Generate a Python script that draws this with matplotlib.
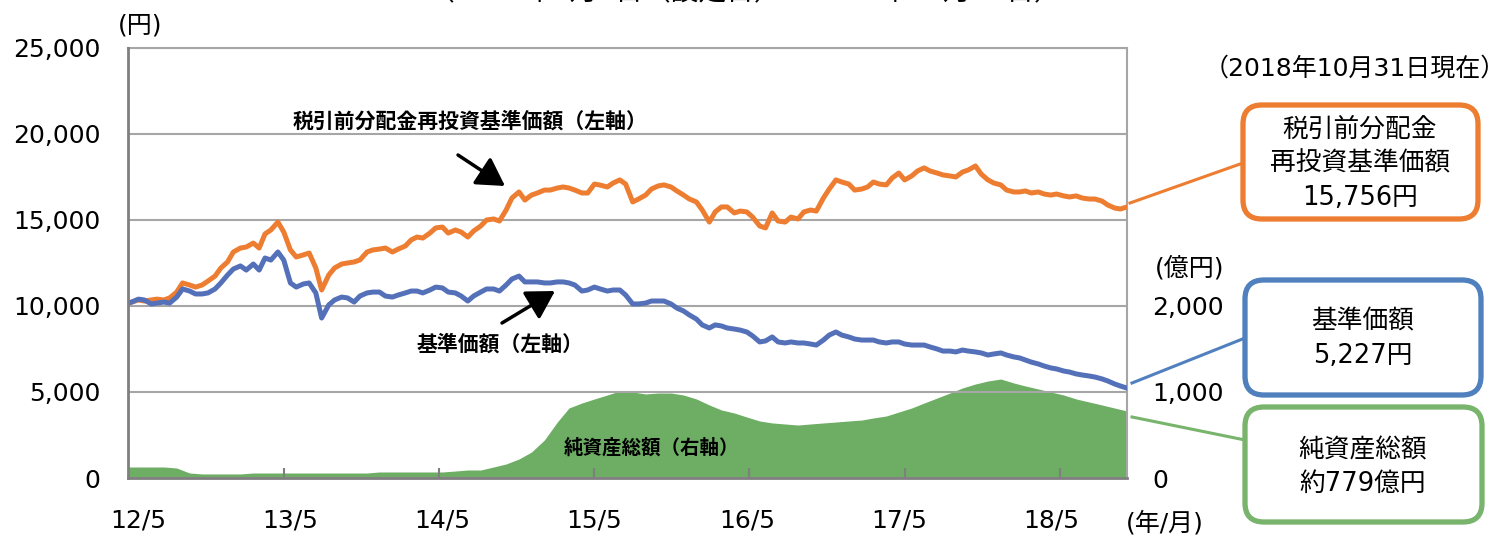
import matplotlib
matplotlib.use("Agg")
import matplotlib.pyplot as plt
import matplotlib.dates as mdates
from matplotlib.patches import FancyBboxPatch, FancyArrowPatch
from matplotlib.lines import Line2D
from matplotlib.ticker import FixedLocator, FuncFormatter, FixedFormatter
import pandas as pd

plt.rcParams['font.family'] = ['DejaVu Sans', 'Noto Sans CJK JP']

# ---------------- data ----------------
# semi-monthly observation dates (setup date, 1st/15th of each month, last date)
dates = ([pd.Timestamp('2012-04-06')]
         + list(pd.date_range('2012-04-15', '2018-10-15', freq='SMS'))
         + [pd.Timestamp('2018-10-31')])

# 税引前分配金再投資基準価額 (円)
nav_reinvested = [10170,
    10230, 10350, 10290, 10350, 10400, 10350, 10470, 10810, 11340, 11220,
    11100, 11220, 11450, 11740, 12210, 12560, 13140, 13370, 13430, 13660,
    13370, 14190, 14420, 14880, 14300, 13260, 12850, 12970, 13080, 12210,
    10930, 11800, 12210, 12440, 12500, 12560, 12680, 13140, 13260, 13310,
    13370, 13140, 13310, 13490, 13840, 14010, 13950, 14240, 14540, 14590,
    14240, 14420, 14300, 14010, 14360, 14650, 15000, 15060, 14940, 15580,
    16280, 16630, 16160, 16450, 16570, 16740, 16740, 16860, 16920, 16860,
    16740, 16570, 16570, 17090, 17030, 16920, 17150, 17330, 17090, 16050,
    16220, 16450, 16800, 16980, 17040, 16920, 16690, 16450, 16220, 16050,
    15580, 14880, 15470, 15760, 15760, 15410, 15520, 15470, 15170, 14650,
    14540, 15410, 14940, 14880, 15170, 15060, 15470, 15580, 15520, 16280,
    16800, 17330, 17210, 17090, 16740, 16800, 16920, 17210, 17090, 17040,
    17440, 17730, 17330, 17560, 17850, 18030, 17850, 17730, 17620, 17560,
    17500, 17790, 17910, 18140, 17670, 17330, 17150, 17040, 16740, 16630,
    16630, 16690, 16570, 16630, 16510, 16450, 16510, 16400, 16340, 16400,
    16280, 16220, 16220, 16100, 15870, 15700, 15640,
    15756]

# 基準価額 (円)
nav = [10170,
    10230, 10400, 10350, 10120, 10170, 10230, 10170, 10520, 10990, 10870,
    10700, 10700, 10760, 10990, 11340, 11800, 12150, 12330, 12090, 12440,
    12090, 12790, 12670, 13140, 12670, 11340, 11100, 11280, 11340, 10760,
    9300, 10060, 10350, 10520, 10470, 10230, 10580, 10760, 10810, 10810,
    10580, 10520, 10640, 10760, 10870, 10870, 10760, 10930, 11100, 11050,
    10810, 10760, 10580, 10290, 10580, 10810, 10990, 10990, 10870, 11220,
    11570, 11740, 11400, 11400, 11400, 11340, 11340, 11400, 11400, 11340,
    11220, 10870, 10930, 11100, 10990, 10870, 10930, 10930, 10640, 10120,
    10120, 10170, 10290, 10290, 10290, 10120, 9880, 9710, 9480, 9240,
    8900, 8720, 8900, 8840, 8720, 8660, 8600, 8490, 8260, 7910,
    7970, 8200, 7910, 7850, 7910, 7850, 7850, 7790, 7730, 8020,
    8310, 8490, 8310, 8200, 8080, 8020, 8020, 8020, 7910, 7850,
    7910, 7910, 7790, 7730, 7730, 7730, 7620, 7500, 7380, 7380,
    7330, 7440, 7380, 7330, 7270, 7150, 7210, 7270, 7150, 7040,
    6980, 6860, 6740, 6630, 6510, 6400, 6340, 6220, 6160, 6050,
    5990, 5930, 5870, 5760, 5640, 5470, 5350,
    5227]

# monthly dates for net assets
dates_aum = ([pd.Timestamp('2012-04-06')]
             + list(pd.date_range('2012-05-01', '2018-10-01', freq='MS'))
             + [pd.Timestamp('2018-10-31')])

# 純資産総額 (億円)
aum = [128,
    128, 128, 128, 116, 58, 47, 47, 47,
    47, 58, 58, 58, 58, 58, 58, 58, 58, 58, 58, 70,
    70, 70, 70, 70, 70, 81, 93, 93, 128, 163, 221, 302,
    442, 651, 814, 872, 919, 965, 1012, 1000, 977, 988, 988, 965,
    919, 849, 791, 756, 709, 663, 640, 628, 616, 628, 640, 651,
    663, 674, 698, 721, 767, 814, 872, 930, 988, 1047, 1093, 1128,
    1151, 1105, 1070, 1035, 1000, 965, 919, 884, 849, 814,
    779]

x_label_dates = ['2012-05-01', '2013-05-01', '2014-05-01', '2015-05-01',
                 '2016-05-01', '2017-05-01', '2018-05-01']
x_labels = ['12/5', '13/5', '14/5', '15/5', '16/5', '17/5', '18/5']
x_tick_dates = ['2013-04-16', '2014-04-23', '2015-04-30', '2016-05-07',
                '2017-05-15', '2018-05-23']
left_ticks = [0, 5000, 10000, 15000, 20000, 25000]
right_ticks = [0, 1000, 2000, 3000, 4000, 5000]
right_tick_labels = ['0', '1,000', '2,000', '', '', '']

# ---------------- styling ----------------
ORANGE = '#ED7D31'
BLUE = '#5470B8'
GREEN = '#6DAD64'
BOX_BLUE = '#5080BD'
BOX_GREEN = '#78B46C'
GRID = '#A6A6A6'
SPINE = '#7F7F7F'

W, H = 1504, 538
fig = plt.figure(figsize=(W / 100, H / 100), dpi=100)


def fx(x):
    return x / W


def fy(y):
    return 1 - y / H


ax = fig.add_axes([fx(128), fy(478), (1127 - 128) / W, (478 - 48) / H])
ax_r = ax.twinx()
ax.set_zorder(2)
ax_r.set_zorder(1)
ax.patch.set_visible(False)

# right axis: area + grid
ax_r.fill_between(dates_aum, aum, 0, color=GREEN, lw=0)
ax_r.set_ylim(0, 5000)
ax_r.yaxis.set_major_locator(FixedLocator(right_ticks))
ax_r.yaxis.set_major_formatter(FixedFormatter(right_tick_labels))
ax_r.grid(axis='y', color=GRID, lw=1.5)
ax_r.tick_params(axis='y', length=0, pad=18, labelsize=18)
for s in ['left', 'bottom']:
    ax_r.spines[s].set_visible(False)
for s in ['right', 'top']:
    ax_r.spines[s].set_color(GRID)
    ax_r.spines[s].set_linewidth(1.5)

# left axis: lines
ax.plot(dates, nav_reinvested, color=ORANGE, lw=3.6, solid_joinstyle='round')
ax.plot(dates, nav, color=BLUE, lw=3.6, solid_joinstyle='round')
ax.set_ylim(0, 25000)
ax.set_xlim(pd.Timestamp('2012-04-06'), pd.Timestamp('2018-10-31'))
ax.yaxis.set_major_locator(FixedLocator(left_ticks))
ax.yaxis.set_major_formatter(FuncFormatter(lambda v, p: f'{int(v):,}'))
ax.tick_params(axis='y', length=0, pad=20, labelsize=18)
ax.xaxis.set_major_locator(FixedLocator(mdates.date2num(pd.to_datetime(x_label_dates))))
ax.xaxis.set_major_formatter(FixedFormatter(x_labels))
ax.xaxis.set_minor_locator(FixedLocator(mdates.date2num(pd.to_datetime(x_tick_dates))))
ax.tick_params(axis='x', which='major', length=0, pad=22, labelsize=18)
ax.tick_params(axis='x', which='minor', direction='in', length=7, width=1.5, color=SPINE)
for s in ['top', 'right']:
    ax.spines[s].set_visible(False)
for s in ['left', 'bottom']:
    ax.spines[s].set_color(SPINE)
    ax.spines[s].set_linewidth(2)

# ---------------- texts ----------------
fig.text(fx(745), fy(0.5), '（2012年4月6日（設定日）～2018年10月31日）', fontsize=20,
         ha='center', va='baseline')
fig.text(fx(140), fy(25), '(円)', fontsize=18, ha='center', va='center')
fig.text(fx(1190), fy(268), '(億円)', fontsize=18, ha='center', va='center')
fig.text(fx(1165), fy(523), '(年/月)', fontsize=18, ha='center', va='center')
fig.text(fx(1355), fy(69), '（2018年10月31日現在）', fontsize=18, ha='center', va='center')

fig.text(fx(470), fy(121), '税引前分配金再投資基準価額（左軸）', fontsize=15,
         fontweight='bold', ha='center', va='center', zorder=10)
fig.text(fx(500), fy(344), '基準価額（左軸）', fontsize=15,
         fontweight='bold', ha='center', va='center', zorder=10)
fig.text(fx(651), fy(448), '純資産総額（右軸）', fontsize=14,
         fontweight='bold', ha='center', va='center', zorder=10)

for (x0, y0), (x1, y1) in [((458, 155), (505, 186)), ((502, 323), (555, 291))]:
    fig.add_artist(FancyArrowPatch((fx(x0), fy(y0)), (fx(x1), fy(y1)),
                                   transform=fig.transFigure,
                                   arrowstyle='-|>,head_length=0.6,head_width=0.35',
                                   mutation_scale=28, lw=2.5, color='black',
                                   shrinkA=0, shrinkB=0, zorder=10))

# callout boxes (pixel box coordinates -> inches)
boxes = [
    ((1243, 105, 1478, 219), ORANGE, '税引前分配金\n再投資基準価額\n15,756円', (1360, 164),
     ((1130, 203), (1243, 163))),
    ((1245, 280, 1481, 395), BOX_BLUE, '基準価額\n5,227円', (1363, 339),
     ((1132, 383), (1245, 338))),
    ((1245, 407, 1482, 522), BOX_GREEN, '純資産総額\n約779億円', (1363, 467),
     ((1132, 417), (1245, 440))),
]
for (x0, y0, x1, y1), col, txt, (tx, ty), ((lx0, ly0), (lx1, ly1)) in boxes:
    fig.add_artist(Line2D([fx(lx0), fx(lx1)], [fy(ly0), fy(ly1)],
                          transform=fig.transFigure, color=col, lw=2.2, zorder=10))
    patch = FancyBboxPatch((x0 / 100, (H - y1) / 100), (x1 - x0) / 100, (y1 - y0) / 100,
                           boxstyle='round,pad=0,rounding_size=0.19',
                           transform=fig.dpi_scale_trans, fc='white', ec=col, lw=3.8,
                           zorder=10)
    fig.add_artist(patch)
    fig.text(fx(tx), fy(ty), txt, fontsize=18.5, ha='center', va='center',
             multialignment='center', linespacing=1.4, zorder=11)

fig.savefig('out.png', dpi=100)
